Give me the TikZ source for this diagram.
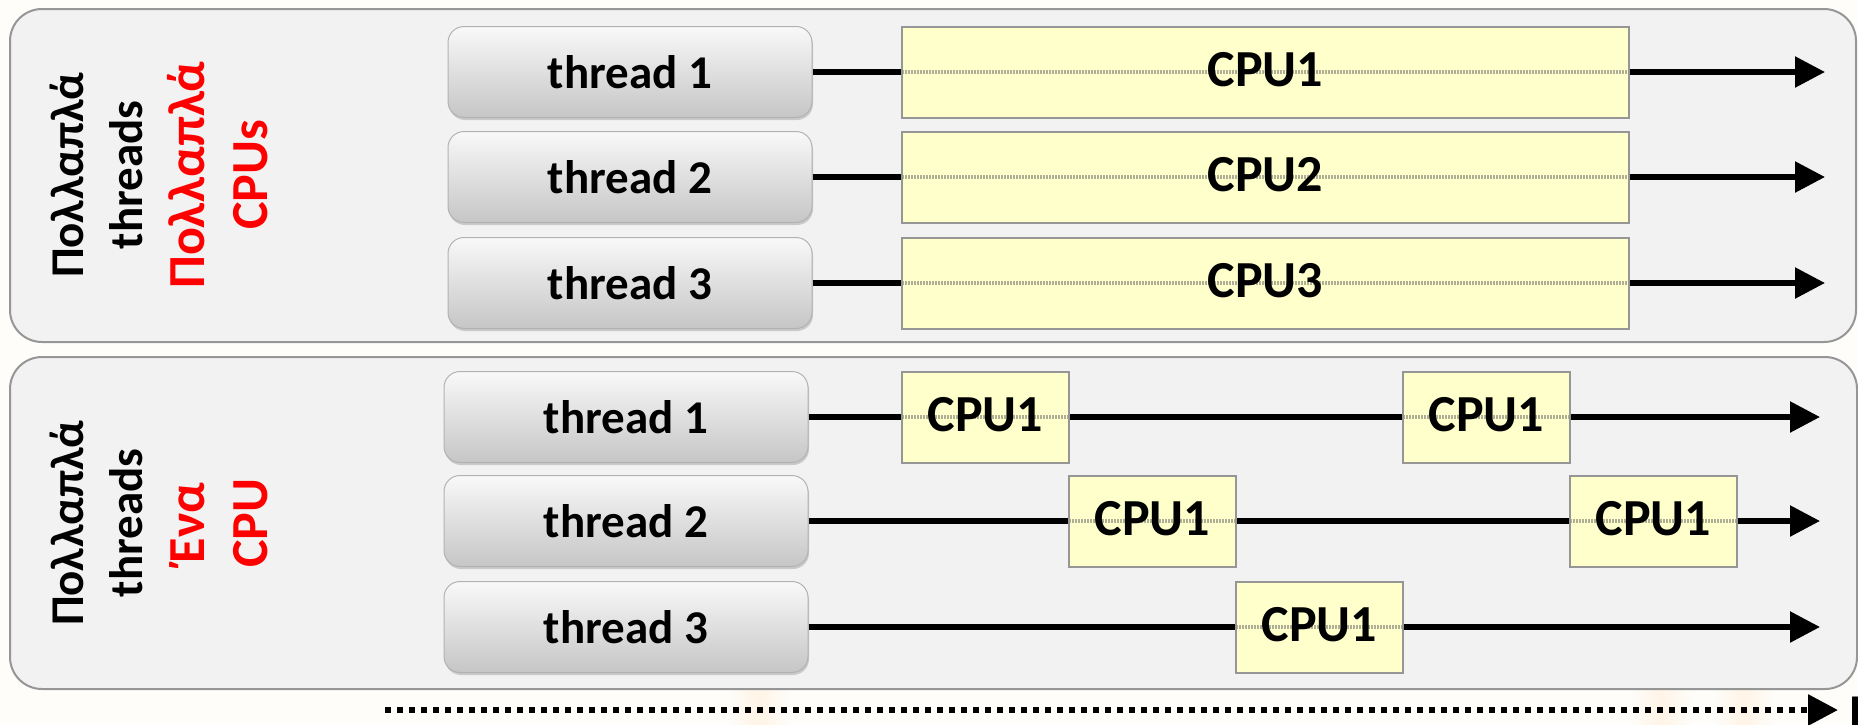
\documentclass[tikz,border=0pt]{standalone}
\usepackage{fontspec}
\setmainfont{Carlito}
\usetikzlibrary{arrows.meta,shadows}
\definecolor{pagebg}{RGB}{254,253,250}
\definecolor{panelfill}{RGB}{242,242,242}
\definecolor{panelline}{RGB}{150,150,150}
\definecolor{cpufill}{RGB}{255,255,204}
\definecolor{cpuline}{RGB}{150,150,150}
\definecolor{texture}{RGB}{175,175,150}
\definecolor{glow}{RGB}{255,244,230}
\definecolor{pured}{RGB}{255,0,0}
\begin{document}
\begin{tikzpicture}[x=1pt,y=-1pt,
  panel/.style={draw=panelline, line width=2pt, fill=panelfill, rounded corners=32pt},
  threadbox/.style={draw=gray!60, line width=1pt, rounded corners=16pt,
    top color=gray!5, bottom color=gray!45, minimum width=364pt, minimum height=91pt,
    inner sep=0pt, font=\fontsize{47}{56}\selectfont\bfseries,
    drop shadow={shadow xshift=1pt, shadow yshift=-2.5pt, opacity=0.35}},
  cpubox/.style={draw=cpuline, line width=2pt, fill=cpufill, inner sep=0pt,
    minimum height=91pt, text depth=6pt, font=\fontsize{52}{60}\selectfont\bfseries,
    path picture={\draw[texture, line width=4pt, dash pattern=on 2pt off 1pt]
      (path picture bounding box.west) -- (path picture bounding box.east);}},
  flow/.style={line width=5.5pt, -{Triangle[length=30pt,width=30pt]}},
  timeline/.style={line width=6pt, dash pattern=on 6pt off 6pt, -{Triangle[length=30pt,width=30pt]}},
  sidetext/.style={rotate=90, anchor=base, inner sep=0pt, font=\fontsize{47}{56}\selectfont\bfseries},
  sidered/.style={rotate=90, anchor=base, inner sep=0pt, text=pured, font=\fontsize{52}{60}\selectfont\bfseries},
  glowband/.style={left color=pagebg, right color=pagebg, middle color=glow, draw=none}
]
\useasboundingbox (0,0) rectangle (1858,724);
\fill[pagebg] (0,0) rectangle (1858,724);
% faint background glows
\shade[glowband] (728,690) rectangle (790,724);
\shade[glowband] (1630,690) rectangle (1692,724);
\shade[glowband] (1714,690) rectangle (1774,724);

% panels
\draw[panel] (10,9) rectangle (1856,342);
\draw[panel] (10,357) rectangle (1857,689);

% ---- top panel: many threads, many CPUs
\node[sidetext] (ta) at (83,175) {Πολλαπλά};
\node[sidetext] (tb) at (142,175) {threads};
\node[sidered] (tc) at (204,175) {Πολλαπλά};
\node[sidered] (td) at (267,175) {CPUs};

\node[threadbox] (a1) at (630,72) {thread 1};
\node[threadbox] (a2) at (630,177) {thread 2};
\node[threadbox] (a3) at (630,283) {thread 3};
\coordinate (ae1) at (1825,72);
\coordinate (ae2) at (1825,177);
\coordinate (ae3) at (1825,283);
\draw[flow] (a1.east) -- (ae1);
\draw[flow] (a2.east) -- (ae2);
\draw[flow] (a3.east) -- (ae3);
\node[cpubox, minimum width=727pt] (ac1) at (1265.5,72) {CPU1};
\node[cpubox, minimum width=727pt] (ac2) at (1265.5,177) {CPU2};
\node[cpubox, minimum width=727pt] (ac3) at (1265.5,283) {CPU3};

% ---- bottom panel: many threads, one CPU
\node[sidetext] (ba) at (83,523) {Πολλαπλά};
\node[sidetext] (bb) at (142,523) {threads};
\node[sidered] (bc) at (204,523) {Ένα};
\node[sidered] (bd) at (267,523) {CPU};

\node[threadbox] (b1) at (626,417) {thread 1};
\node[threadbox] (b2) at (626,521) {thread 2};
\node[threadbox] (b3) at (626,627) {thread 3};
\coordinate (be1) at (1820,417);
\coordinate (be2) at (1820,521);
\coordinate (be3) at (1820,627);
\draw[flow] (b1.east) -- (be1);
\draw[flow] (b2.east) -- (be2);
\draw[flow] (b3.east) -- (be3);
\node[cpubox, minimum width=167pt] (bc11) at (985.5,417) {CPU1};
\node[cpubox, minimum width=167pt] (bc12) at (1486.5,417) {CPU1};
\node[cpubox, minimum width=167pt] (bc21) at (1152.5,521) {CPU1};
\node[cpubox, minimum width=167pt] (bc22) at (1653.5,521) {CPU1};
\node[cpubox, minimum width=167pt] (bc31) at (1319.5,627) {CPU1};

% ---- time axis
\coordinate (ts) at (385,710);
\coordinate (te) at (1838,710);
\draw[timeline] (ts) -- (te);
\node[anchor=base west, inner sep=0pt, font=\fontsize{47}{56}\selectfont\bfseries] (tl) at (1850,727) {Γ};
\end{tikzpicture}
\end{document}
